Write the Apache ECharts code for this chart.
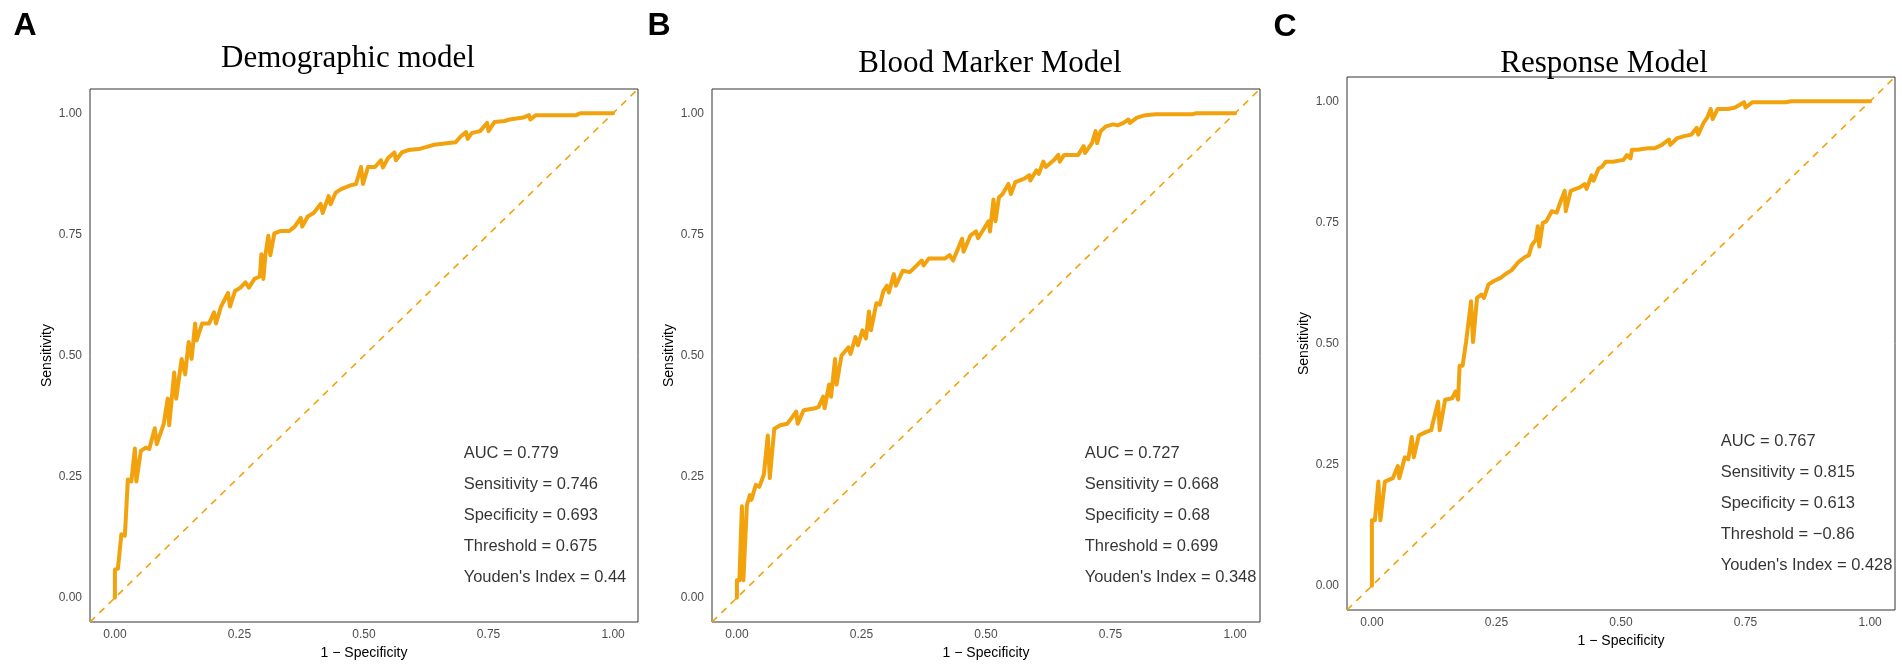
<!DOCTYPE html>
<html>
<head>
<meta charset="utf-8">
<script src="https://cdn.jsdelivr.net/npm/echarts@6/dist/echarts.min.js"></script>
<style>html,body{margin:0;padding:0;background:#fff;}#c{width:1902px;height:667px;}</style>
</head>
<body>
<div id="c"></div>
<script>
// ---- data ----
const panelTitles = ['Demographic model', 'Blood Marker Model', 'Response Model'];
const panelLetters = ['A', 'B', 'C'];
const tickValues = [0, 0.25, 0.5, 0.75, 1];
const diagX = [-0.05, 1.05];
const diagY = [-0.05, 1.05];

const fprA = [0,0,0.006,0.009,0.013,0.020,0.026,0.033,0.040,0.043,0.052,0.062,0.069,0.080,0.084,0.098,0.106,0.109,0.119,0.123,0.134,0.141,0.148,0.154,0.161,0.164,0.175,0.189,0.199,0.203,0.213,0.227,0.231,0.241,0.252,0.262,0.269,0.280,0.291,0.294,0.298,0.302,0.308,0.312,0.320,0.333,0.350,0.361,0.373,0.376,0.387,0.399,0.413,0.417,0.429,0.433,0.443,0.455,0.473,0.484,0.494,0.498,0.508,0.522,0.534,0.538,0.548,0.561,0.564,0.576,0.589,0.610,0.624,0.641,0.666,0.684,0.694,0.705,0.708,0.716,0.733,0.747,0.750,0.762,0.782,0.792,0.820,0.831,0.834,0.845,0.926,0.934,1.0];
const tprA = [0,0.058,0.060,0.060,0.131,0.128,0.244,0.240,0.308,0.240,0.303,0.310,0.307,0.350,0.317,0.359,0.411,0.356,0.465,0.411,0.493,0.461,0.528,0.493,0.566,0.531,0.566,0.566,0.589,0.566,0.601,0.629,0.601,0.633,0.640,0.651,0.640,0.658,0.663,0.709,0.658,0.707,0.747,0.707,0.752,0.757,0.757,0.766,0.784,0.766,0.787,0.794,0.813,0.794,0.829,0.812,0.836,0.844,0.851,0.854,0.889,0.854,0.889,0.889,0.903,0.888,0.907,0.919,0.903,0.919,0.924,0.926,0.930,0.935,0.938,0.940,0.952,0.961,0.947,0.959,0.963,0.980,0.963,0.982,0.984,0.987,0.991,0.996,0.987,0.996,0.996,1.0,1.0];

const fprB = [0,0,0.005,0.010,0.013,0.020,0.026,0.029,0.038,0.045,0.054,0.062,0.066,0.075,0.087,0.101,0.119,0.122,0.134,0.157,0.164,0.173,0.176,0.185,0.189,0.197,0.200,0.210,0.224,0.228,0.238,0.243,0.252,0.259,0.265,0.269,0.280,0.287,0.294,0.301,0.305,0.315,0.319,0.333,0.347,0.357,0.371,0.375,0.385,0.417,0.427,0.434,0.452,0.455,0.469,0.480,0.484,0.505,0.508,0.515,0.519,0.526,0.533,0.545,0.550,0.559,0.577,0.587,0.589,0.601,0.606,0.615,0.620,0.637,0.645,0.648,0.657,0.685,0.696,0.699,0.713,0.720,0.723,0.730,0.741,0.755,0.764,0.776,0.786,0.789,0.803,0.820,0.841,0.915,0.922,1.0];
const tprB = [0,0.036,0.036,0.189,0.036,0.191,0.212,0.202,0.233,0.229,0.254,0.335,0.247,0.349,0.356,0.359,0.384,0.359,0.387,0.391,0.394,0.415,0.391,0.440,0.415,0.493,0.440,0.500,0.517,0.503,0.538,0.521,0.552,0.535,0.591,0.552,0.608,0.605,0.633,0.644,0.630,0.668,0.644,0.675,0.672,0.682,0.696,0.686,0.700,0.700,0.707,0.696,0.741,0.714,0.748,0.756,0.742,0.777,0.756,0.822,0.777,0.826,0.833,0.854,0.833,0.858,0.865,0.872,0.861,0.882,0.875,0.900,0.889,0.904,0.914,0.900,0.914,0.914,0.932,0.918,0.939,0.963,0.938,0.963,0.973,0.977,0.975,0.980,0.987,0.980,0.991,0.996,0.998,0.998,1.0,1.0];

const fprC = [0,0,0.006,0.013,0.017,0.026,0.042,0.052,0.055,0.066,0.073,0.080,0.084,0.094,0.108,0.119,0.122,0.133,0.136,0.147,0.161,0.168,0.173,0.176,0.182,0.189,0.192,0.199,0.203,0.211,0.220,0.225,0.234,0.245,0.259,0.269,0.280,0.286,0.294,0.308,0.315,0.321,0.329,0.333,0.336,0.343,0.350,0.361,0.371,0.378,0.387,0.389,0.399,0.417,0.427,0.431,0.441,0.445,0.455,0.462,0.469,0.484,0.505,0.512,0.519,0.522,0.533,0.554,0.568,0.582,0.596,0.599,0.613,0.627,0.641,0.652,0.655,0.666,0.673,0.680,0.684,0.694,0.715,0.729,0.747,0.750,0.764,0.831,0.841,1.0];
const tprC = [0,0.135,0.135,0.215,0.135,0.215,0.222,0.247,0.222,0.265,0.261,0.307,0.265,0.310,0.317,0.321,0.335,0.380,0.321,0.384,0.387,0.401,0.384,0.454,0.454,0.503,0.503,0.587,0.503,0.594,0.601,0.594,0.622,0.629,0.636,0.644,0.651,0.658,0.668,0.679,0.682,0.703,0.714,0.742,0.700,0.749,0.752,0.773,0.770,0.791,0.815,0.773,0.815,0.822,0.829,0.819,0.847,0.836,0.861,0.865,0.875,0.875,0.879,0.889,0.882,0.900,0.900,0.903,0.903,0.910,0.921,0.910,0.924,0.928,0.931,0.945,0.931,0.956,0.966,0.984,0.963,0.984,0.984,0.987,0.998,0.987,0.998,0.998,1.0,1.0];

const statsA = ['AUC = 0.779', 'Sensitivity = 0.746', 'Specificity = 0.693', 'Threshold = 0.675', "Youden's Index = 0.44"];
const statsB = ['AUC = 0.727', 'Sensitivity = 0.668', 'Specificity = 0.68', 'Threshold = 0.699', "Youden's Index = 0.348"];
const statsC = ['AUC = 0.767', 'Sensitivity = 0.815', 'Specificity = 0.613', 'Threshold = \u22120.86', "Youden's Index = 0.428"];
const statsAnchorX = [0.70, 0.698, 0.70];
const statsAnchorY = [0.169, 0.169, 0.169];

// ---- layout ----
const ORANGE = '#F2A20D';
const grids = [
  {left: 90, top: 89, width: 548, height: 533},
  {left: 712, top: 89, width: 548, height: 533},
  {left: 1347, top: 77, width: 548, height: 533}
];
const titlePos = [{x: 343, y: 38}, {x: 985, y: 43}, {x: 1599, y: 43}];
const letterPos = [{x: 20, y: 5}, {x: 654, y: 5}, {x: 1280, y: 6}];
const curves = [[fprA, tprA], [fprB, tprB], [fprC, tprC]];
const stats = [statsA, statsB, statsC];

const zip = (a, b) => a.map((v, i) => [v, b[i]]);
const sansFont = 'Liberation Sans, Arial, sans-serif';

const option = {
  animation: false,
  backgroundColor: '#ffffff',
  title: [],
  grid: [],
  xAxis: [],
  yAxis: [],
  series: []
};

for (let i = 0; i < 3; i++) {
  option.grid.push(Object.assign({show: true, borderColor: '#333', borderWidth: 1, backgroundColor: '#fff', containLabel: false}, grids[i]));
  option.title.push({
    text: panelTitles[i], left: titlePos[i].x, top: titlePos[i].y, textAlign: 'center',
    textStyle: {fontFamily: 'Liberation Serif, Times New Roman, serif', fontWeight: 'normal', fontSize: 31, color: '#000'}
  });
  option.title.push({
    text: panelLetters[i], left: letterPos[i].x, top: letterPos[i].y, textAlign: 'center',
    textStyle: {fontFamily: sansFont, fontWeight: 'bold', fontSize: 32, color: '#000'}
  });
  option.xAxis.push({
    type: 'value', gridIndex: i, min: -0.05, max: 1.05,
    name: '1 \u2212 Specificity', nameLocation: 'middle', nameGap: 24,
    nameTextStyle: {fontFamily: sansFont, fontSize: 14, color: '#000'},
    axisLine: {show: false}, axisTick: {show: false}, splitLine: {show: false},
    axisLabel: {customValues: tickValues, formatter: v => v.toFixed(2), margin: 7, fontFamily: sansFont, fontSize: 12, color: '#4d4d4d'}
  });
  option.yAxis.push({
    type: 'value', gridIndex: i, min: -0.05, max: 1.05,
    name: 'Sensitivity', nameLocation: 'middle', nameGap: 36, nameRotate: 90,
    nameTextStyle: {fontFamily: sansFont, fontSize: 14, color: '#000'},
    axisLine: {show: false}, axisTick: {show: false}, splitLine: {show: false},
    axisLabel: {customValues: tickValues, formatter: v => v.toFixed(2), margin: 8, fontFamily: sansFont, fontSize: 12, color: '#4d4d4d'}
  });
  option.series.push({
    type: 'line', xAxisIndex: i, yAxisIndex: i, data: zip(diagX, diagY), showSymbol: false, symbol: 'none',
    lineStyle: {color: ORANGE, width: 1.6, type: [7, 6]}, z: 1, silent: true
  });
  option.series.push({
    type: 'line', xAxisIndex: i, yAxisIndex: i, data: zip(curves[i][0], curves[i][1]), showSymbol: false, symbol: 'none',
    lineStyle: {color: ORANGE, width: 4, join: 'round', cap: 'round'}, z: 2, silent: true
  });
  option.series.push({
    type: 'scatter', xAxisIndex: i, yAxisIndex: i, data: [[statsAnchorX[i], statsAnchorY[i]]], symbolSize: 0, silent: true,
    label: {show: true, position: 'right', distance: 0, formatter: stats[i].join('\n'), lineHeight: 31,
      fontFamily: sansFont, fontSize: 16.5, color: '#000', align: 'left', verticalAlign: 'middle'}
  });
}

const chart = echarts.init(document.getElementById('c'), null, {renderer: 'canvas'});
chart.setOption(option);
</script>
</body>
</html>
